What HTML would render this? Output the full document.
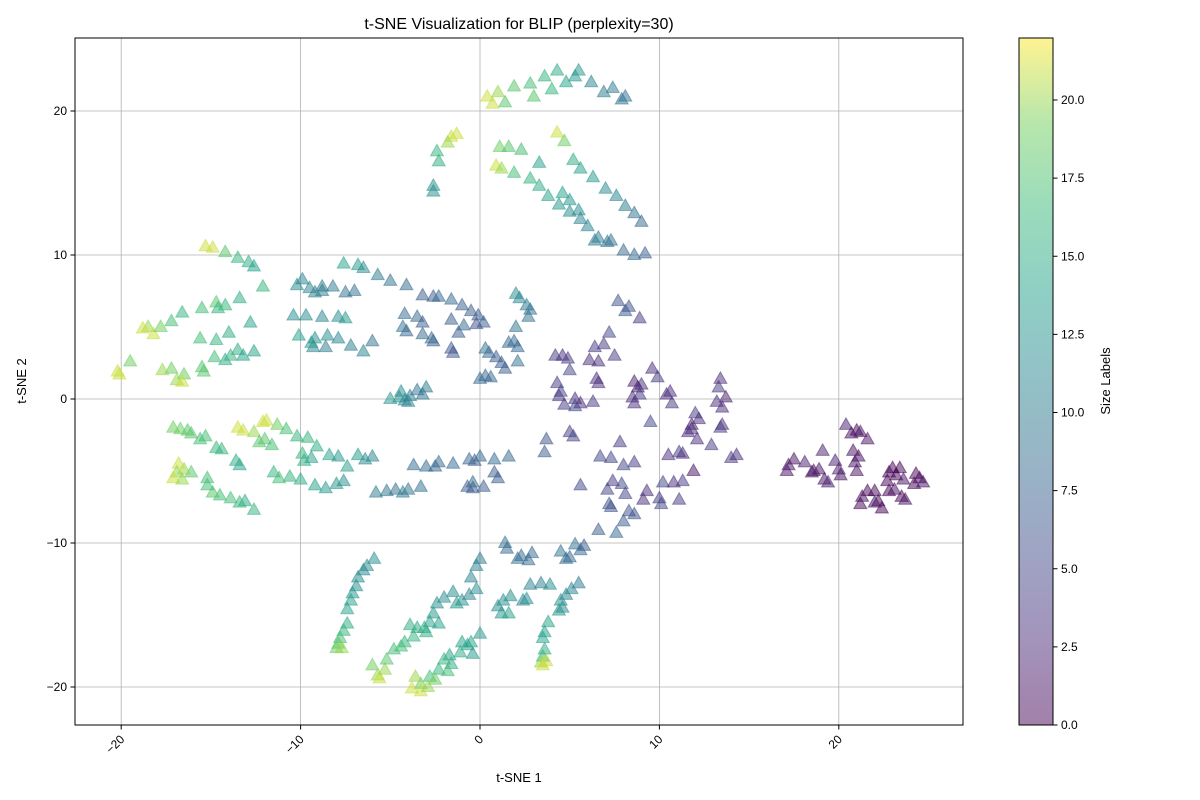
<!DOCTYPE html>
<html><head><meta charset="utf-8"><style>
body{margin:0;background:#fff;}
svg{display:block;font-family:"Liberation Sans",sans-serif;}
</style></head><body>
<svg id="chart" width="1200" height="800">
<defs><linearGradient id="vir" x1="0" y1="1" x2="0" y2="0">
<stop offset="0" stop-color="#440154"/><stop offset="0.125" stop-color="#482878"/><stop offset="0.25" stop-color="#3e4989"/><stop offset="0.375" stop-color="#31688e"/><stop offset="0.5" stop-color="#26828e"/><stop offset="0.625" stop-color="#1f9e89"/><stop offset="0.75" stop-color="#35b779"/><stop offset="0.875" stop-color="#6ece58"/><stop offset="1" stop-color="#fde725"/></linearGradient></defs>
<g id="grid"></g>
<g id="points"></g>
<rect x="75" y="38" width="888" height="687" fill="none" stroke="#000" stroke-width="1"/>
<g id="axes"></g>
<text x="519" y="29" font-size="16" text-anchor="middle">t-SNE Visualization for BLIP (perplexity=30)</text>
<text x="519" y="782" font-size="13" text-anchor="middle">t-SNE 1</text>
<text x="26" y="381" font-size="13" text-anchor="middle" transform="rotate(-90 26 381)">t-SNE 2</text>
<rect x="1019" y="38" width="34" height="687" fill="url(#vir)" opacity="0.5"/>
<rect x="1019" y="38" width="34" height="687" fill="none" stroke="#000" stroke-width="1"/>
<g id="cbar"></g>
<text x="1110" y="381" font-size="13" text-anchor="middle" transform="rotate(-90 1110 381)">Size Labels</text>
</svg>
<script>
const xTicks=[-20,-10,0,10,20];
const yTicks=[-20,-10,0,10,20];
const cTicks=[0,2.5,5,7.5,10,12.5,15,17.5,20];
const xs=[];const ys=[];const labels=[];
const pts=[
[0.4,21,21],[0.7,20.5,21],[1,21.3,20],[1.4,20.6,18],[1.9,21.7,18],[2.8,21.9,17],[3.6,22.4,16],[4.3,22.8,15],[4.8,22,14],[5.5,22.8,13],[5.3,22.4,13],[6.2,22,11],[6.9,21.3,10],[7.4,21.6,10],[7.9,20.8,9],[8.1,21,9],[3,21,18],[4,21.5,16],
[1.1,17.5,19],[1.6,17.5,18],[2.3,17.3,17],[3.3,16.4,14],[4.3,18.5,21],[4.7,17.9,19],[5.2,16.6,15],[5.6,16,14],[6.3,15.4,13],[7,14.6,12],[7.6,14.1,11],[8.1,13.4,10],[8.6,12.9,9],[9,12.3,8],[4.6,14.3,14],[5,13.8,13],[5.5,13.1,12],[6,12,11],[6.6,11.2,10],[7.3,11,9],[8,10.3,8],[8.6,10,8],[9.2,10.1,7],
[0.9,16.2,21],[1.2,16,20],[1.9,15.7,17],[2.8,15.3,16],[3.3,14.8,15],[3.8,14.1,14],[4.4,13.5,13],[5,13,12],[5.6,12.5,11],[6.4,11,10],[7.1,10.9,9],
[-1.6,18.2,21],[-1.3,18.4,21],[-1.8,17.8,20],[-2.4,17.2,16],[-2.3,16.5,15],[-2.6,14.8,12],[-2.6,14.4,12],
[-15.3,10.6,21],[-14.9,10.5,21],[-14.2,10.2,18],[-13.5,9.8,16],[-12.9,9.5,15],[-12.6,9.2,14],[-12.1,7.8,16],[-13.4,7,15],[-14.2,6.5,16],[-14.7,6.7,18],[-15.5,6.3,17],[-16.6,6,16],[-17.2,5.4,17],[-18.5,5,20],[-18.8,4.9,21],[-18.2,4.5,21],[-17.8,5,19],[-12.8,5.3,14],[-14,4.6,15],[-14.7,4.1,16],[-15.6,4.2,17],[-13.5,3.4,15],[-13.2,3,14],[-12.6,3.3,14],[-14.2,2.7,15],[-14.8,2.9,17],[-15.5,2.2,18],[-15.4,1.9,18],[-16.5,1.7,19],[-16.9,1.3,20],[-17.2,2.1,19],[-17.7,2,20],[-19.5,2.6,19],[-20.2,1.9,21],[-20.1,1.7,21],[-16.6,1.2,21],[-13.9,3,16],[-14.6,6.3,16],
[-10.2,7.9,12],[-9.9,8.3,11],[-9.5,7.7,11],[-8.8,7.8,10],[-8.2,7.8,10],[-7.5,7.4,9],[-7,7.5,9],[-7.6,9.4,14],[-6.8,9.3,13],[-6.5,9.1,12],[-5.7,8.6,10],[-5,8.2,9],[-4.1,7.9,8],[-3.2,7.2,7],[-2.6,7.1,7],[-2.3,7.1,8],[-1.6,6.9,8],[-1,6.5,7],[-0.5,6.1,7],[-0.1,5.8,7],[-0.2,5.2,6],[0.2,5.3,7],[-8.8,7.5,10],[-9.2,7.4,10],
[-10.4,5.8,12],[-9.7,5.8,12],[-8.8,5.7,11],[-7.9,5.7,12],[-7.5,5.6,13],[-6,4,9],[-6.5,3.3,11],[-7.2,3.7,10],[-7.9,4.2,11],[-8.5,4.4,12],[-9.2,4.2,12],[-9.3,3.6,11],[-8.6,3.6,10],[-10.1,4.4,14],[-9.4,3.9,13],
[-4.2,5.9,8],[-4.3,5,9],[-4.1,4.7,8],[-3.5,5.7,8],[-3.2,5.3,7],[-3.2,4.5,8],[-2.6,4,7],[-2.7,4.2,8],[-1.6,5.5,7],[-1.6,3.5,7],[-1.5,3.2,6],[-1.2,4.6,7],[-0.9,5.1,8],
[-4.5,0.1,12],[-4.2,-0.1,11],[-3.9,0.2,10],[-3.5,0.6,9],[-3,0.8,10],[-3.2,0.3,9],[-4,-0.2,11],[-5,0,13],[-4.4,0.5,12],
[0.3,3.5,9],[0.5,3.2,8],[0.9,2.9,7],[1.2,2.5,7],[0.3,1.6,8],[0.6,1.5,8],[0,1.4,8],[1.4,2.1,7],[2,7.3,12],[2.2,7,11],[2.6,6.5,10],[2.8,6.2,9],[2.7,5.7,9],[2,5,9],[1.9,4,8],[2.1,3.6,8],[2.1,2.6,9],[1.6,3.9,8],
[4.2,3,4],[4.6,3,3],[4.9,2.8,4],[5,2,5],[4.3,1.1,4],[4.5,0.5,5],[4.4,0.2,4],[4.7,-0.4,4],[5.3,0,3],[5.6,-0.3,3],[5.3,-0.5,5],[6.4,3.6,4],[6.1,2.7,3],[6.6,2.6,3],[6.9,3.8,4],[7.2,4.6,5],[7.5,3,4],[7.7,6.8,6],[8.1,6.1,7],[8.3,6.4,6],[8.9,5.6,4],[6.5,1.4,3],[6.6,1.1,3],[6.3,-0.2,4],[8.6,1.2,2],[8.8,0.8,2],[9,1,3],[8.5,0.1,3],[8.6,-0.3,3],[8.9,0.3,4],[9.5,-1.6,5],[9.9,1.5,4],[9.6,2.1,3],[10.4,0.3,3],[10.6,0.5,3],[10.7,-0.3,4],[5,-2.3,4],[5.2,-2.6,5],[3.7,-2.8,6],[3.6,-3.7,7],
[6.7,-4,5],[7.3,-4.1,5],[7.8,-3,4],[8,-4.6,5],[8.6,-4.4,4],[7.1,-6.3,5],[7.4,-5.7,4],[7.9,-5.9,5],[8.1,-6.6,5],[8.3,-7.8,6],[7.2,-7.3,6],[7.3,-7.5,6],[8,-8.5,7],[7.6,-9.3,8],[6.6,-9.1,7],[8.6,-8,6],[5.6,-6,5],[9.1,-7,3],[9.3,-6.4,3],[10,-6.9,4],[10.2,-5.8,5],[10.1,-7.3,5],[10.5,-3.9,3],[11.1,-3.7,4],[11.3,-3.8,3],[10.8,-5.8,3],[11.3,-5.7,4],[11.1,-7,4],[11.9,-5,1],[12.1,-2.8,3],[11.8,-1.8,2],[11.6,-2.3,3],[12,-1,4],[12.2,-1.4,3],[11.8,-2.1,3],[12.9,-3.2,4],[13.5,-1.8,3],[13.4,-2,4],[14,-4.1,4],[14.3,-3.9,3],[13.3,0.8,4],[13.4,1.4,3],[13.7,0.1,2],[13.5,-0.6,3],[13.2,-0.2,3],
[17.2,-4.6,1],[17.5,-4.2,1],[17.1,-5,1],[18.1,-4.4,2],[18.6,-5,1],[18.9,-4.9,1],[18.5,-5.1,1],[19.2,-5.6,1],[19.4,-5.8,2],[19.1,-3.6,2],[19.8,-4.3,2],[20,-4.9,2],[20.1,-5.3,1],[20.4,-1.8,2],[20.7,-2.4,1],[21,-2.2,0],[21.2,-2.3,1],[20.8,-3.6,1],[21.1,-4,1],[20.9,-4.4,1],[21,-5,1],[21.6,-2.8,1],[21.3,-6.8,1],[21.6,-6.4,0],[21.2,-7.3,0],[22.2,-7.1,0],[22.4,-7.6,0],[22.7,-5.7,0],[22.8,-6.4,0],[22.8,-5.1,0],[23,-4.8,0],[23.1,-6.3,1],[23.4,-4.8,0],[23.2,-5.3,0],[23.6,-5.6,1],[23.5,-6.8,0],[23.7,-7,1],[24.3,-5.2,0],[24.5,-5.5,0],[24.2,-5.9,0],[24.7,-5.8,1],[22,-7.2,1],[22,-6.4,0],
[-17.1,-2,19],[-16.7,-2.1,19],[-16.3,-2.2,18],[-16.1,-2.4,18],[-15.6,-2.8,17],[-15.3,-2.6,17],[-14.7,-3.4,16],[-14.4,-3.5,16],[-13.5,-2,21],[-13.2,-2.2,21],[-12.6,-2.3,20],[-12.1,-1.6,21],[-11.9,-1.5,21],[-11.3,-1.8,19],[-12,-2.8,18],[-11.6,-3.2,17],[-10.8,-2.1,17],[-10.2,-2.6,16],[-9.6,-2.7,16],[-9.1,-3.3,15],[-8.4,-3.9,14],[-7.9,-4,13],[-6.8,-3.9,13],[-6.4,-4.2,12],[-6,-4,11],[-9.9,-3.8,16],[-9.8,-4.3,15],[-9.4,-4.1,14],[-7.4,-4.7,14],[-11.5,-5.1,16],[-11.2,-5.5,17],[-10.6,-5.4,16],[-10,-5.6,15],[-9.2,-6,14],[-8.6,-6.2,13],[-8,-5.9,13],[-7.6,-5.7,12],[-12.6,-7.7,16],[-13.1,-7.1,15],[-13.4,-7.2,16],[-13.9,-6.9,17],[-14.5,-6.7,17],[-14.9,-6.5,18],[-15.2,-5.5,17],[-16.1,-5.1,18],[-16.5,-4.9,20],[-16.8,-4.5,21],[-16.9,-5.1,20],[-17.1,-5.5,21],[-16.6,-5.6,20],[-13.4,-4.6,14],[-13.6,-4.3,15],[-15.2,-6,17],[-12.3,-3,18],
[-5.8,-6.5,10],[-5.2,-6.4,9],[-4.7,-6.3,9],[-4.3,-6.5,10],[-4,-6.3,9],[-3.3,-6.1,9],[-3.7,-4.6,8],[-3,-4.7,8],[-2.5,-4.7,8],[-2.3,-4.4,8],[-1.5,-4.5,8],[-0.6,-4.2,8],[-0.3,-4.3,7],[0,-4,8],[-0.7,-6.1,7],[-0.4,-6.2,7],[0.2,-6.1,7],[0.8,-4.2,8],[1.6,-4,8],[0.8,-5.1,7],[1,-5.5,7],[-0.4,-5.8,8],
[-5.9,-11.1,12],[-6.3,-11.6,12],[-6.5,-11.9,11],[-6.8,-12.4,12],[-6.9,-13,12],[-7.1,-13.5,13],[-7.2,-14,14],[-7.4,-14.6,14],[-7.4,-15.6,15],[-7.6,-16.1,16],[-7.8,-16.6,17],[-7.9,-17,18],[-8,-17.3,19],[-7.7,-17.3,20],
[-6,-18.5,19],[-5.7,-19.2,20],[-5.6,-19.4,21],[-5.3,-18.8,20],[-5.2,-18.1,18],[-4.8,-17.4,17],[-4.2,-16.9,16],[-4.4,-17.2,17],[-3.7,-16.5,16],[-3.5,-15.9,15],[-3.1,-15.9,15],[-2.8,-15.5,14],[-2.6,-14.9,13],[-2.4,-14.2,12],[-2,-13.8,12],[-1.5,-13.4,12],[-1.3,-14.2,13],[-1,-14,12],[-0.6,-13.6,11],[-0.2,-13.2,12],[-0.5,-12.4,11],[-0.2,-11.6,11],[0,-11.1,10],[-3.9,-15.7,15],[-3,-16.2,15],[-2.3,-15.6,14],
[-1,-16.9,14],[-0.7,-17.1,14],[-1.1,-17.6,15],[-0.4,-17.7,13],[-0.5,-16.9,14],[0,-16.3,13],[-1.7,-17.8,14],[-1.6,-18.4,15],[-2,-18.1,16],[-2.3,-18.8,16],[-2.8,-19.3,17],[-3.3,-19.8,19],[-3.6,-19.3,20],[-3.3,-20.3,21],[-3.8,-20.1,21],[-2.9,-20,20],[-2.5,-19.5,19],[-1.8,-18.9,17],
[1,-14.4,12],[1.3,-14,12],[1.2,-14.9,13],[1.6,-14.9,14],[1.7,-13.7,12],[2.4,-14,11],[2.6,-13.9,12],[2.8,-12.9,11],[3.4,-12.8,10],[1.4,-10,9],[1.5,-10.4,8],[2.1,-11.1,9],[2.3,-10.9,8],[2.7,-11.2,8],[2.9,-10.7,8],[3.8,-15.5,14],[3.6,-16.2,14],[3.5,-16.6,14],[3.6,-17.4,15],[3.5,-17.9,16],[3.4,-18.3,20],[3.5,-18.5,21],[3.7,-18.2,21],[4.4,-14.7,13],[4.6,-14.5,12],[4.5,-14,12],[4.8,-13.6,11],[5.1,-13.2,11],[5.5,-12.8,10],[4.5,-10.6,9],[4.8,-11.1,8],[5,-11,8],[5.3,-10.1,9],[5.6,-10.5,8],[5.8,-10.2,7],[3.9,-12.9,12]
];
pts.forEach(p=>{xs.push(p[0]);ys.push(p[1]);labels.push(p[2]);});
const NS="http://www.w3.org/2000/svg";
const sx=v=>480+v*17.94, sy=v=>399-v*14.4, cy=v=>725-v*31.25;
const fmt=t=>String(t).replace('-','\u2212');
const stops=[[68,1,84],[72,40,120],[62,73,137],[49,104,142],[38,130,142],[31,158,137],[53,183,121],[110,206,88],[253,231,37]];
function vir(t){t=Math.max(0,Math.min(1,t));const f=t*8,i=Math.min(7,Math.floor(f)),r=f-i;const a=stops[i],b=stops[i+1];return `rgb(${a.map((c,k)=>Math.round(c+(b[k]-c)*r)).join(',')})`;}
function mk(tag,attrs,parent){const e=document.createElementNS(NS,tag);for(const k in attrs)e.setAttribute(k,attrs[k]);parent.appendChild(e);return e;}
const grid=document.getElementById('grid'),axes=document.getElementById('axes'),g=document.getElementById('points'),cb=document.getElementById('cbar');
xTicks.forEach(t=>{const x=sx(t);
 const l=mk('line',{x1:x,x2:x,y1:38,y2:725,stroke:'#b0b0b0','stroke-width':0.8},grid);
 
 
 mk('line',{x1:x,x2:x,y1:725,y2:729.5,stroke:'#000'},axes);
 const tx=mk('text',{x:x+4,y:740,'font-size':12,'text-anchor':'end',transform:`rotate(-45 ${x+4} 740)`},axes);tx.textContent=fmt(t);
 
 });
yTicks.forEach(t=>{const y=sy(t);
 const l=mk('line',{x1:75,x2:963,y1:y,y2:y,stroke:'#b0b0b0','stroke-width':0.8},grid);
 
 
 mk('line',{x1:70.5,x2:75,y1:y,y2:y,stroke:'#000'},axes);
 const tx=mk('text',{x:67,y:y+4,'font-size':12,'text-anchor':'end'},axes);tx.textContent=fmt(t);
 
 });
cTicks.forEach(t=>{const y=cy(t);
 mk('line',{x1:1053,x2:1057.5,y1:y,y2:y,stroke:'#000'},cb);
 const tx=mk('text',{x:1061,y:y+4,'font-size':12},cb);tx.textContent=t.toFixed(1);
 
 });
for(let i=0;i<xs.length;i++){const x=sx(xs[i]),y=sy(ys[i]);const c=vir(labels[i]/22);
 const p=mk('polygon',{points:`${x},${y-7} ${x-6.5},${y+4.5} ${x+6.5},${y+4.5}`,fill:c,stroke:c,'fill-opacity':0.5,'stroke-opacity':0.5,'stroke-width':1},g);
 
 }
</script>
</body></html>
